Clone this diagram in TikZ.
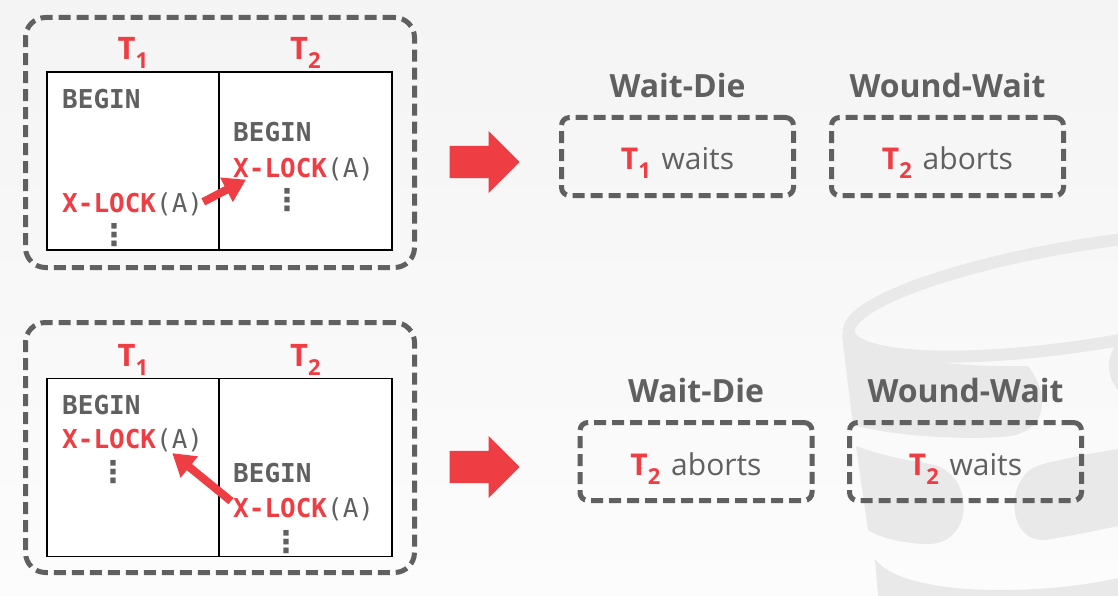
\documentclass[tikz,border=0pt]{standalone}
\usepackage{fontspec}
\setmainfont{Open Sans}
\setmonofont{DejaVu Sans Mono}
\newfontfamily\dotsfont{DejaVu Sans}
\usetikzlibrary{positioning, arrows.meta, shapes.arrows, calc}

\definecolor{dbred}{HTML}{EF3D44}
\definecolor{dbgray}{HTML}{606060}
\definecolor{bgtop}{HTML}{F4F4F4}
\definecolor{bgbottom}{HTML}{FCFCFC}
\definecolor{logogray}{HTML}{E9E9E9}

\newcommand{\tx}[1]{T\raisebox{-9pt}{\fontsize{22}{22}\selectfont #1}}
\newcommand{\xlock}{{\color{dbred}X-LOCK}{\mdseries(A)}}

\tikzset{
  groupbox/.style={draw=dbgray, line width=5pt, dash pattern=on 12pt off 6pt, rounded corners=20pt,
    minimum width=389pt, minimum height=250pt, inner sep=0pt, outer sep=0pt},
  col/.style={draw=black, fill=white, line width=1.5pt, minimum width=172pt, minimum height=178pt,
    inner sep=0pt, outer sep=0pt},
  txlabel/.style={inner sep=0pt, text=dbred, font=\fontsize{31}{31}\selectfont\bfseries},
  stmt/.style={anchor=base west, inner sep=0pt, text=dbgray, font=\fontsize{26}{26}\selectfont\ttfamily\bfseries},
  vdot/.style={inner sep=0pt, text=dbgray, font=\dotsfont\bfseries\fontsize{30}{30}\selectfont},
  conflict/.style={draw=dbred, line width=8pt, -{Triangle[length=22pt, width=26pt]}},
  go/.style={single arrow, fill=dbred, minimum height=70pt, minimum width=0pt, inner xsep=0pt,
    inner ysep=16pt, single arrow head extend=15pt, single arrow tip angle=90},
  scheme/.style={inner sep=0pt, text=dbgray, font=\fontsize{32}{32}\selectfont\bfseries},
  outcome/.style={draw=dbgray, line width=5pt, dash pattern=on 12pt off 6pt, rounded corners=8pt,
    minimum width=232pt, minimum height=78pt, inner sep=0pt, outer sep=0pt,
    text height=30pt, text depth=3pt, text=dbgray, font=\fontsize{30}{30}\selectfont}
}

\begin{document}
\begin{tikzpicture}[x=1pt, y=-1pt]
    \useasboundingbox (0,0) rectangle (1118,596);
    \fill[top color=bgtop, bottom color=bgbottom] (0,0) rectangle (1118,596);

    % faded logo in the background
    \begin{scope}
        \clip (0,0) rectangle (1118,596);
        \draw[logogray, line width=12pt] (1092,294) ellipse [x radius=246, y radius=50, rotate=9];
        \fill[logogray] (842,334) .. controls (846,370) and (850,400) .. (853,425)
            .. controls (900,438) and (980,440) .. (1010,436)
            .. controls (1048,430) and (1050,395) .. (1028,366)
            .. controls (950,368) and (870,356) .. cycle;
        \fill[logogray] (856,446) .. controls (880,455) and (905,460) .. (930,464)
            .. controls (975,472) and (975,542) .. (930,544)
            .. controls (905,544) and (880,538) .. (868,530) -- cycle;
        \fill[logogray] (1118,449) .. controls (1080,455) and (1050,462) .. (1040,465)
            .. controls (1005,475) and (1005,542) .. (1045,540)
            .. controls (1070,536) and (1100,530) .. (1118,526) -- cycle;
        \fill[logogray] (875,559) .. controls (890,580) and (940,590) .. (1000,590)
            .. controls (1060,590) and (1100,582) .. (1118,578) -- (1118,596) -- (878,596) -- cycle;
        \fill[logogray] (1145,366) circle [radius=36];
    \end{scope}

    % T1 locks first
    \node[groupbox] (g1) at (220,142.5) {};
    \node[col] (c11) at (133,161) {};
    \node[col, minimum width=173pt, right=0pt of c11] (c12) {};
    \node[txlabel, above=3pt of c11] (t11) {\tx{1}};
    \node[txlabel, above=3pt of c12] (t12) {\tx{2}};
    \node[stmt] (b11) at (62,109) {BEGIN};
    \node[stmt] (x11) at (62,212) {\xlock};
    \node[vdot] (d11) at (114,235) {⋮};
    \node[stmt] (b12) at (233,142) {BEGIN};
    \node[stmt] (x12) at (233,178) {\xlock};
    \node[vdot] (d12) at (287,200) {⋮};
    \draw[conflict] ([yshift=2pt]x11.east) -- ([xshift=13pt, yshift=2pt]x12.south west);

    % T2 locks first
    \node[groupbox] (g2) at (220,447.5) {};
    \node[col] (c21) at (133,467.5) {};
    \node[col, minimum width=173pt, right=0pt of c21] (c22) {};
    \node[txlabel, above=3pt of c21] (t21) {\tx{1}};
    \node[txlabel, above=3pt of c22] (t22) {\tx{2}};
    \node[stmt] (b21) at (62,414) {BEGIN};
    \node[stmt] (x21) at (62,448) {\xlock};
    \node[vdot] (d21) at (113,472) {⋮};
    \node[stmt] (b22) at (233,482) {BEGIN};
    \node[stmt] (x22) at (233,517) {\xlock};
    \node[vdot] (d22) at (286,542) {⋮};
    \draw[conflict] ([xshift=-2pt, yshift=-4pt]x22.north west) -- ([xshift=-31pt, yshift=-1.5pt]x21.south east);

    % outcomes
    \node[go, anchor=tip] (go1) at (520,162) {};
    \node[go, anchor=tip] (go2) at (520,467) {};

    \node[outcome] (wd1) at (677.5,156.5) {{\color{dbred}\bfseries\tx{1}}\hspace{3pt} waits};
    \node[outcome, right=38pt of wd1] (ww1) {{\color{dbred}\bfseries\tx{2}}\hspace{3pt} aborts};
    \node[scheme, above=19.5pt of wd1] (n11) {Wait-Die};
    \node[scheme, above=19.5pt of ww1] (n12) {Wound-Wait};

    \node[outcome] (wd2) at (696,461.5) {{\color{dbred}\bfseries\tx{2}}\hspace{3pt} aborts};
    \node[outcome, right=37.5pt of wd2] (ww2) {{\color{dbred}\bfseries\tx{2}}\hspace{3pt} waits};
    \node[scheme, above=19.5pt of wd2] (n21) {Wait-Die};
    \node[scheme, above=19.5pt of ww2] (n22) {Wound-Wait};
\end{tikzpicture}
\end{document}
